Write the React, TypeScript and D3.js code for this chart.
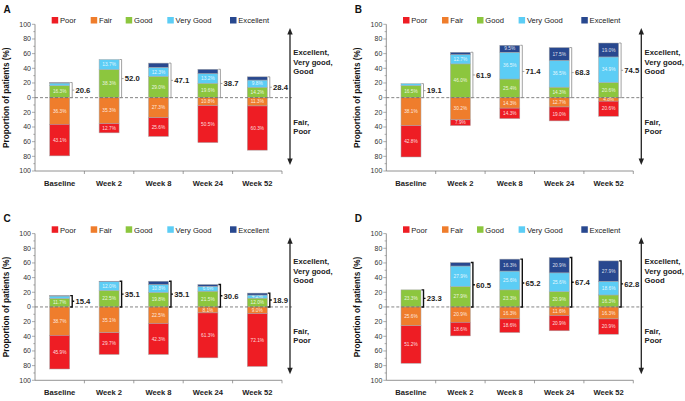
import React from "react";
import * as d3 from "d3";

const categories = ["Baseline", "Week 2", "Week 8", "Week 24", "Week 52"];
const levels = ["Poor", "Fair", "Good", "Very Good", "Excellent"];
const levelColors = ["#ee1d24", "#ef7d2c", "#8cc63e", "#5ccdf5", "#28488f"];
const yTickValues = [-100, -80, -60, -40, -20, 0, 20, 40, 60, 80, 100];
const panelLabels = ["A", "B", "C", "D"];

const poorA = [43.1, 12.7, 25.6, 50.5, 60.3];
const fairA = [36.3, 35.3, 27.3, 10.8, 11.3];
const goodA = [16.3, 38.3, 29.0, 19.6, 14.2];
const veryGoodA = [3.6, 13.7, 12.3, 13.2, 9.8];
const excellentA = [0.7, 0.0, 5.8, 5.9, 4.4];
const totalA = [20.6, 52.0, 47.1, 38.7, 28.4];

const poorB = [42.8, 7.9, 14.3, 19.0, 20.6];
const fairB = [38.1, 30.2, 14.3, 12.7, 4.8];
const goodB = [16.5, 46.0, 25.4, 14.3, 20.6];
const veryGoodB = [2.6, 12.7, 36.5, 36.5, 34.9];
const excellentB = [0.0, 3.2, 9.5, 17.5, 19.0];
const totalB = [19.1, 61.9, 71.4, 68.3, 74.5];

const poorC = [45.9, 29.7, 42.3, 61.3, 72.1];
const fairC = [38.7, 35.1, 22.5, 8.1, 9.0];
const goodC = [11.7, 22.5, 19.8, 21.5, 12.0];
const veryGoodC = [3.2, 12.0, 10.8, 6.6, 4.2];
const excellentC = [0.5, 0.6, 4.5, 2.5, 2.7];
const totalC = [15.4, 35.1, 35.1, 30.6, 18.9];

const poorD = [51.2, 18.6, 18.6, 20.9, 20.9];
const fairD = [25.6, 20.9, 16.3, 11.6, 16.3];
const goodD = [23.3, 27.9, 23.3, 20.9, 16.3];
const veryGoodD = [0.0, 27.9, 25.6, 25.6, 18.6];
const excellentD = [0.0, 4.7, 16.3, 20.9, 27.9];
const totalD = [23.3, 60.5, 65.2, 67.4, 62.8];

const panelData = [
  { poor: poorA, fair: fairA, good: goodA, vg: veryGoodA, exc: excellentA, total: totalA, heavy: false },
  { poor: poorB, fair: fairB, good: goodB, vg: veryGoodB, exc: excellentB, total: totalB, heavy: false },
  { poor: poorC, fair: fairC, good: goodC, vg: veryGoodC, exc: excellentC, total: totalC, heavy: true },
  { poor: poorD, fair: fairD, good: goodD, vg: veryGoodD, exc: excellentD, total: totalD, heavy: true },
];

const panelOrigins = [
  [0, 0],
  [351.3, 0],
  [0, 209.3],
  [351.3, 209.3],
];

const FONT = "'Liberation Sans', Arial, Helvetica, sans-serif";
const legendX = [51.7, 90.7, 125.7, 167.3, 230];

function Panel({ idx }: { idx: number }) {
  const d = panelData[idx];
  const [ox, oy] = panelOrigins[idx];
  const x = d3
    .scaleBand<string>()
    .domain(categories)
    .range([35, 282])
    .paddingInner(0.595)
    .paddingOuter(0.2975);
  const y = d3.scaleLinear().domain([-100, 100]).range([171, 24.3]);
  const bw = x.bandwidth();
  const y0 = y(0);

  const segs: any[] = [];
  categories.forEach((c, i) => {
    const pos = [
      { lv: 2, v: d.good[i] },
      { lv: 3, v: d.vg[i] },
      { lv: 4, v: d.exc[i] },
    ];
    let acc = 0;
    pos.forEach((p) => {
      if (p.v > 0) segs.push({ c, lv: p.lv, v: p.v, a: acc, b: acc + p.v });
      acc += p.v;
    });
    const neg = [
      { lv: 1, v: d.fair[i] },
      { lv: 0, v: d.poor[i] },
    ];
    acc = 0;
    neg.forEach((p) => {
      if (p.v > 0) segs.push({ c, lv: p.lv, v: p.v, a: -acc, b: -(acc + p.v) });
      acc += p.v;
    });
  });

  const bracketColor = d.heavy ? "#111" : "#8a8a8a";
  const bracketW = d.heavy ? 1.4 : 0.8;

  return (
    <g transform={`translate(${ox},${oy})`} fontFamily={FONT}>
      <text x={3.5} y={12.5} fontSize={10} fontWeight="bold" fill="#111">
        {panelLabels[idx]}
      </text>
      {levels.map((lv, i) => (
        <g key={lv}>
          <rect x={legendX[i]} y={17} width={6.5} height={6.5} fill={levelColors[i]} />
          <text x={legendX[i] + 8.3} y={23.3} fontSize={7.6} fill="#222">
            {lv}
          </text>
        </g>
      ))}
      <text
        transform={`translate(8.6,${y0}) rotate(-90)`}
        textAnchor="middle"
        fontSize={8.2}
        fontWeight="bold"
        fill="#111"
      >
        Proportion of patients (%)
      </text>
      {segs.map((s, k) => {
        const top = Math.min(y(s.a), y(s.b));
        const h = Math.abs(y(s.a) - y(s.b));
        const thr = s.lv === 4 ? 8 : 4;
        return (
          <g key={k}>
            <rect
              x={x(s.c)!}
              y={top}
              width={bw}
              height={h}
              fill={levelColors[s.lv]}
              stroke="#a8a8a8"
              strokeWidth={0.5}
            />
            {s.v >= thr && (
              <text
                x={x(s.c)! + bw / 2}
                y={top + h / 2 + 1.7}
                textAnchor="middle"
                fontSize={4.8}
                fill="#fff"
                fillOpacity={0.85}
              >
                {s.v.toFixed(1)}%
              </text>
            )}
          </g>
        );
      })}
      <line x1={35} x2={292} y1={y0} y2={y0} stroke="#666" strokeWidth={0.8} strokeDasharray="3,2" />
      <line x1={35} x2={35} y1={y(100)} y2={y(-100)} stroke="#777" strokeWidth={0.8} />
      {d3.range(-100, 101, 10).map((t) => (
        <line
          key={t}
          x1={t % 20 === 0 ? 32 : 33.3}
          x2={35}
          y1={y(t)}
          y2={y(t)}
          stroke="#777"
          strokeWidth={0.6}
        />
      ))}
      {yTickValues.map((t) => (
        <text key={t} x={31} y={y(t) + 2.4} textAnchor="end" fontSize={7} fill="#333">
          {Math.abs(t)}
        </text>
      ))}
      <line x1={35} x2={282} y1={y(-100)} y2={y(-100)} stroke="#777" strokeWidth={0.8} />
      {categories.map((c) => {
        const bx = x(c)! + bw / 2 + x.step() / 2;
        return <line key={c} x1={bx} x2={bx} y1={y(-100)} y2={y(-100) + 3} stroke="#777" strokeWidth={0.7} />;
      })}
      {categories.map((c) => (
        <text
          key={c}
          x={x(c)! + bw / 2}
          y={185.5}
          textAnchor="middle"
          fontSize={7.6}
          fontWeight="bold"
          fill="#222"
        >
          {c}
        </text>
      ))}
      {categories.map((c, i) => {
        const bx = x(c)! + bw + 2.5;
        const yt = y(d.total[i]);
        const ym = (yt + y0) / 2;
        return (
          <g key={c}>
            <path
              d={`M${bx - 2},${yt} H${bx} V${y0} H${bx - 2} M${bx},${ym} H${bx + 2}`}
              fill="none"
              stroke={bracketColor}
              strokeWidth={bracketW}
            />
            <text x={bx + 3.2} y={ym + 2.8} fontSize={7.7} fontWeight="bold" fill="#222">
              {d.total[i].toFixed(1)}
            </text>
          </g>
        );
      })}
      <line x1={290} x2={290} y1={33} y2={160} stroke="#222" strokeWidth={1.3} />
      <path d="M290,28 L287.3,34.5 L292.7,34.5 Z" fill="#222" />
      <path d="M290,165 L287.3,158.5 L292.7,158.5 Z" fill="#222" />
      {["Excellent,", "Very good,", "Good"].map((t, i) => (
        <text key={t} x={293.3} y={55.2 + i * 9.3} fontSize={7.7} fontWeight="bold" fill="#222">
          {t}
        </text>
      ))}
      {["Fair,", "Poor"].map((t, i) => (
        <text key={t} x={293.3} y={124.6 + i * 9.3} fontSize={7.7} fontWeight="bold" fill="#222">
          {t}
        </text>
      ))}
    </g>
  );
}

export default function App() {
  return (
    <svg
      width={685}
      height={401}
      style={{ position: "absolute", left: 0, top: 0, background: "#fff" }}
    >
      <rect width={685} height={401} fill="#fff" />
      {[0, 1, 2, 3].map((i) => (
        <Panel key={i} idx={i} />
      ))}
    </svg>
  );
}
